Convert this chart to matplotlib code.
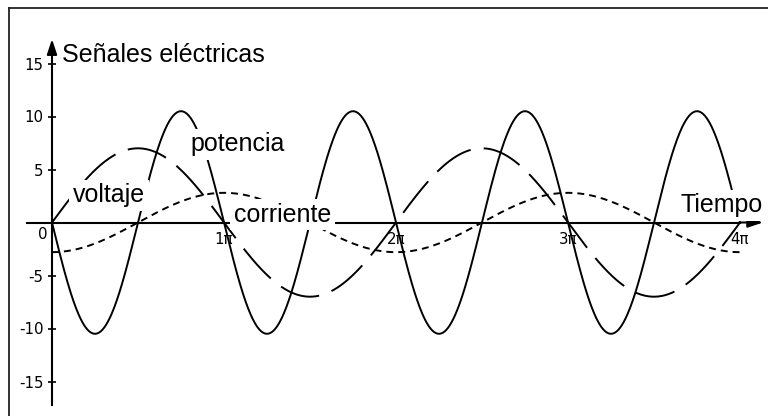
import numpy as np
import matplotlib

matplotlib.use("Agg")
import matplotlib.pyplot as plt
from matplotlib.lines import Line2D

plt.rcParams["font.family"] = ["DejaVu Sans"]
plt.rcParams["lines.scale_dashes"] = False
plt.rcParams["axes.unicode_minus"] = False

# señales: amplitud * sin(frecuencia * t + fase)
t_end = 4 * np.pi
series_names = ["voltaje", "corriente", "potencia"]
amplitudes = [7.0, 2.8, 10.5]
frequencies = [1, 1, 2]
phases = [0.0, -np.pi / 2, np.pi]

y_ticks = [-15, -10, -5, 5, 10, 15]
x_ticks = [np.pi, 2 * np.pi, 3 * np.pi, 4 * np.pi]
x_tick_labels = ["1π", "2π", "3π", "4π"]

styles = {
    "voltaje": (0, (29, 9.5)),
    "corriente": (0, (5, 3.6)),
    "potencia": "-",
}

fig = plt.figure(figsize=(7.68, 4.16), dpi=100)
ax = fig.add_axes([0, 0, 1, 1])

# px -> datos: x = (px-52)/172*pi, y = (222.5-py)/10.6
ax.set_xlim(-52 / 172 * np.pi, (768 - 52) / 172 * np.pi)
ax.set_ylim(-(416 - 222.5) / 10.6, 222.5 / 10.6)

t = np.linspace(0, t_end, 800)
for name, a, w, ph in zip(series_names, amplitudes, frequencies, phases):
    ax.plot(t, a * np.sin(w * t + ph), color="black", lw=1.4,
            linestyle=styles[name], zorder=2)

# ejes centrados con flechas
for s in ["top", "right"]:
    ax.spines[s].set_visible(False)
ax.spines["left"].set_position(("data", 0))
ax.spines["bottom"].set_position(("data", 0))
ax.spines["left"].set_bounds(-17.2, 16)
ax.spines["bottom"].set_bounds(-0.145 * np.pi, 4.0 * np.pi)
for sp in ["left", "bottom"]:
    ax.spines[sp].set_linewidth(1.5)

arrow_kw = dict(arrowstyle="-|>,head_length=0.9,head_width=0.3", lw=1.5,
                color="black", mutation_scale=10, shrinkA=0, shrinkB=0)
ax.annotate("", xy=(0, 17.3), xytext=(0, 16), arrowprops=arrow_kw)
ax.annotate("", xy=(4.134 * np.pi, 0), xytext=(4.0 * np.pi, 0), arrowprops=arrow_kw)

ax.set_yticks(y_ticks)
ax.set_yticklabels([str(v) for v in y_ticks])
ax.tick_params(axis="y", direction="inout", length=6, width=1.2, pad=3.0,
               labelsize=10.8)
ax.set_xticks(x_ticks)
ax.set_xticklabels(x_tick_labels)
ax.tick_params(axis="x", length=0, pad=6.5, labelsize=10.8)
ax.annotate("0", xy=(0, 0), xytext=(-3.4, -3), textcoords="offset points",
            ha="right", va="top", fontsize=10.8)

# rótulos
big = dict(family="Liberation Sans", fontsize=18, color="black", zorder=5)
box = dict(facecolor="white", edgecolor="none", pad=2.5)
ax.text(0.1826, 15.14, "Señales eléctricas", ha="left", va="baseline", **big)
ax.text(3.388, 6.70, "potencia", ha="center", va="baseline", bbox=box, **big)
ax.text(1.041, 1.93, "voltaje", ha="center", va="baseline", bbox=box, **big)
ax.text(4.210, 0.05, "corriente", ha="center", va="baseline", bbox=box, **big)
ax.text(12.237, 0.99, "Tiempo", ha="center", va="baseline", bbox=box, **big)

# marco de la captura (arriba e izquierda)
fig.add_artist(Line2D([9 / 768, 1], [1 - 8 / 416] * 2, transform=fig.transFigure,
                      color="#222222", lw=1.3))
fig.add_artist(Line2D([9 / 768] * 2, [0, 1 - 8 / 416], transform=fig.transFigure,
                      color="#222222", lw=1.3))

fig.savefig("out.png", dpi=100, facecolor="white")
